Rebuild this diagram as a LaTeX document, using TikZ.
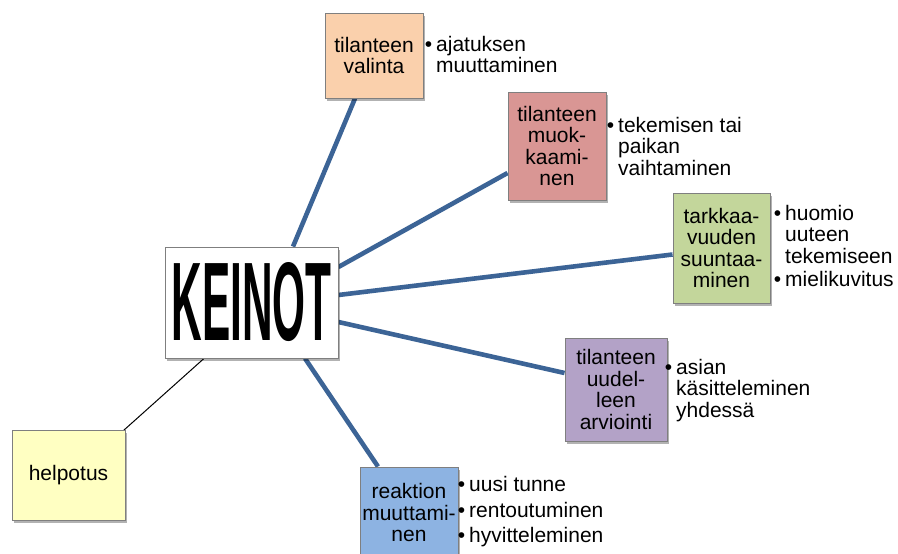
\documentclass[tikz,border=0pt]{standalone}
\usepackage{fontspec}
\setmainfont{Liberation Sans}
\usepackage{graphicx}
\usetikzlibrary{calc,shadows,backgrounds}
\definecolor{cpeach}{HTML}{FAD0AC}
\definecolor{crose}{HTML}{D99694}
\definecolor{cgreen}{HTML}{C3D69B}
\definecolor{cpurple}{HTML}{B3A2C7}
\definecolor{cblue}{HTML}{8DB3E2}
\definecolor{cyellow}{HTML}{FFFFC2}
\definecolor{cline}{HTML}{3C6496}
\definecolor{cborder}{HTML}{7F7F7F}
\newcommand{\bul}{\llap{\textbullet\kern4pt}}
\tikzset{
  fs/.style={font=\fontsize{21}{21.5}\selectfont},
  box/.style={draw=cborder, line width=0.9pt, inner sep=0pt, align=center, fs,
    drop shadow={shadow xshift=2pt, shadow yshift=-2.5pt, fill=black, opacity=0.3}},
  blist/.style={anchor=base west, inner sep=0pt, align=left, fs},
  conn/.style={draw=cline, line width=4.6pt},
  thinconn/.style={draw=black, line width=1pt},
}
\begin{document}
\begin{tikzpicture}[x=1pt,y=-1pt]
\useasboundingbox (0,0) rectangle (898,554);
% boxes
\node[box, fill=white, minimum width=173pt, minimum height=111pt] (keinot) at (251.5,302.5)
  {\resizebox{160pt}{78pt}{\bfseries KEINOT}};
\node[box, fill=cpeach, minimum width=98pt, minimum height=85pt] (valinta) at (374,55.5)
  {tilanteen\\valinta};
\node[box, fill=crose, minimum width=98pt, minimum height=108pt] (muok) at (557,146)
  {tilanteen\\muok-\\kaami-\\nen};
\node[box, fill=cgreen, minimum width=97pt, minimum height=110pt] (tark) at (721.5,248)
  {tarkkaa-\\vuuden\\suuntaa-\\minen};
\node[box, fill=cpurple, minimum width=102pt, minimum height=103pt] (arvi) at (616,389.5)
  {tilanteen\\uudel-\\leen\\arviointi};
\node[box, fill=cblue, minimum width=98pt, minimum height=91pt] (reak) at (409,512.5)
  {reaktion\\muuttami-\\nen};
\node[box, fill=cyellow, minimum width=113pt, minimum height=90pt] (help) at (68.5,475)
  {helpotus};
% bullet lists (base anchor = last line)
\node[blist] (valintaL) at (436,72.7) {\bul ajatuksen\\muuttaminen};
\node[blist] (muokL) at (618,175) {\bul tekemisen tai\\paikan\\vaihtaminen};
\node[blist] (tarkL) at (785,286.7) {\bul huomio\\uuteen\\tekemiseen\\[2pt]\bul mielikuvitus};
\node[blist] (arviL) at (676,417) {\bul asian\\käsitteleminen\\yhdessä};
\node[blist] (reakL) at (469,542.3) {\bul uusi tunne\\[4.5pt]\bul rentoutuminen\\[3pt]\bul hyvitteleminen};
% connectors
\begin{pgfonlayer}{background}
\draw[conn] ($(keinot.north)+(41.5,0)$) -- ($(valinta.south)+(-19,0)$);
\draw[conn] ($(keinot.east)+(0,-35.5)$) -- ($(muok.west)+(0,27)$);
\draw[conn] ($(keinot.east)+(0,-7.5)$) -- ($(tark.west)+(0,6.5)$);
\draw[conn] ($(keinot.east)+(0,19.5)$) -- ($(arvi.west)+(0,-16.5)$);
\draw[conn] ($(keinot.south)+(53.5,0)$) -- ($(reak.north)+(-31,0)$);
\draw[thinconn] ($(keinot.south)+(-47.5,0)$) -- ($(help.north east)+(-2,1)$);
\end{pgfonlayer}
\end{tikzpicture}
\end{document}
